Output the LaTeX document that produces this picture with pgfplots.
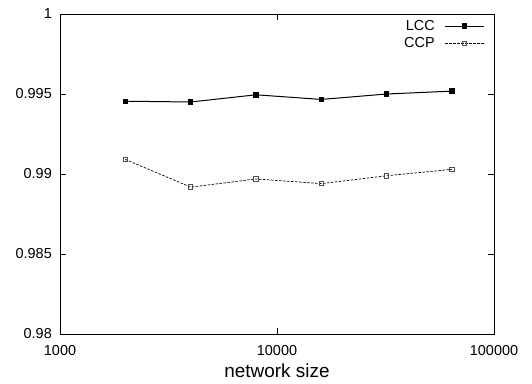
\documentclass[border=0pt]{standalone}
\usepackage{pgfplots}
\pgfplotsset{compat=1.18}
\usepackage{fontspec}
\setmainfont{Liberation Sans}
\begin{document}
\begin{tikzpicture}[x=1bp,y=1bp]
\useasboundingbox (0,0) rectangle (532,383);
\begin{axis}[
  at={(60bp,49bp)}, anchor=south west,
  scale only axis, width=434bp, height=320bp,
  xmode=log, log basis x=10,
  xmin=1000, xmax=100000, ymin=0.98, ymax=1,
  xtick={1000,10000,100000},
  xticklabels={1000,10000,100000},
  ytick={0.98,0.985,0.99,0.995,1},
  yticklabels={0.98,0.985,0.99,0.995,1},
  /pgf/number format/assume math mode=true,
  tick align=inside,
  major tick length=6bp, minor tick length=3bp,
  every tick/.style={black, line width=0.6pt},
  axis line style={line width=0.8pt},
  tick label style={font=\fontsize{14.5}{16}\selectfont},
  xticklabel style={anchor=north, inner sep=0pt, yshift=-11bp},
  yticklabel style={anchor=east, inner sep=0pt, xshift=-8bp},
  xlabel={network size},
  xlabel style={font=\fontsize{19}{21}\selectfont, at={(axis description cs:0.5,0)}, anchor=base, inner sep=0pt, yshift=-43bp},
  legend style={draw=none, fill=none, at={(0.979,0.981)}, anchor=north east,
    font=\fontsize{14.5}{14.5}\selectfont, inner sep=0pt, nodes={inner sep=0pt}, column sep=10bp, row sep=6bp},
  legend cell align=right,
  legend plot pos=right,
  legend image code/.code={\draw[mark repeat=2,mark phase=2] plot coordinates {(0bp,0bp) (19.5bp,0bp) (39bp,0bp)};},
]
\addplot[black, line width=1pt, mark=square*, mark size=2.2bp, mark options={solid}]
  coordinates {(2000,0.99455) (4000,0.99450) (8000,0.99495) (16000,0.99466) (32000,0.99500) (64000,0.99518)};
\addlegendentry{LCC}
\addplot[black, line width=0.7pt, dashed, dash pattern=on 2.5bp off 1.5bp, mark=square, mark size=2.2bp, mark options={solid, line width=0.9pt, draw=black!70}]
  coordinates {(2000,0.99091) (4000,0.98918) (8000,0.98969) (16000,0.98940) (32000,0.98989) (64000,0.99029)};
\addlegendentry{CCP}
\end{axis}
\end{tikzpicture}
\end{document}
